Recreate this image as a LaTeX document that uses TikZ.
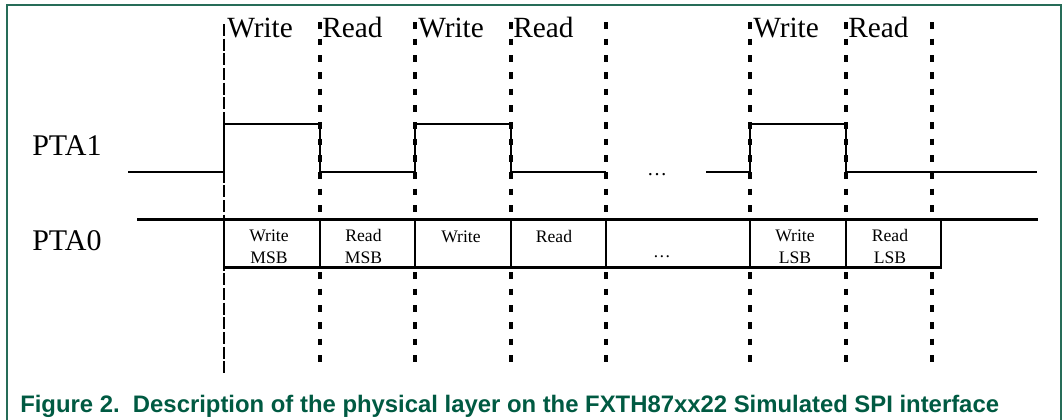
\documentclass[tikz,border=0pt]{standalone}
\usepackage{fontspec}
\setmainfont{Liberation Serif}
\newfontfamily\capfont{Liberation Sans}
\usetikzlibrary{positioning}
\definecolor{framegreen}{RGB}{38,108,88}
\definecolor{capgreen}{RGB}{0,90,66}
\tikzset{
  frame/.style={draw=framegreen, line width=1.2pt},
  signal/.style={draw, line width=1.7pt},
  tick/.style={draw, line width=2.4pt, dash pattern=on 5pt off 7.5pt},
  firsttick/.style={draw, line width=1.4pt, dash pattern=on 9pt off 2pt},
  toplabel/.style={anchor=base west, inner sep=0pt, font=\fontsize{22}{24}\selectfont},
  siglabel/.style={anchor=base west, inner sep=0pt, font=\fontsize{22.5}{25}\selectfont},
  boxtext/.style={align=center, inner sep=0pt, font=\fontsize{13.2}{16.1}\selectfont}
}

\begin{document}
\begin{tikzpicture}[x=0.75pt, y=-0.75pt]
\useasboundingbox (0,0) rectangle (1064,419);

% Cornice
\draw[frame] (7,425) -- (7,5) -- (1061,5) -- (1061,425);

% Linee tratteggiate
\coordinate (t1) at (224,24);  \coordinate (b1) at (224,373);
\coordinate (t2) at (320,22);  \coordinate (b2) at (320,364);
\coordinate (t3) at (415,22);  \coordinate (b3) at (415,364);
\coordinate (t4) at (511,22);  \coordinate (b4) at (511,364);
\coordinate (t5) at (606,22);  \coordinate (b5) at (606,364);
\coordinate (t6) at (750,22);  \coordinate (b6) at (750,364);
\coordinate (t7) at (846,22);  \coordinate (b7) at (846,364);
\coordinate (t8) at (932,22);  \coordinate (b8) at (932,364);
\draw[firsttick] (t1) -- (b1);
\draw[tick] (t2) -- (b2);
\draw[tick] (t3) -- (b3);
\draw[tick] (t4) -- (b4);
\draw[tick] (t5) -- (b5);
\draw[tick] (t6) -- (b6);
\draw[tick] (t7) -- (b7);
\draw[tick] (t8) -- (b8);

% Etichette in alto
\node[toplabel] (w1) at (227,37.5) {Write};
\node[toplabel] (r1) at (322,37.5) {Read};
\node[toplabel] (w2) at (418,37.5) {Write};
\node[toplabel] (r2) at (513,37.5) {Read};
\node[toplabel] (w3) at (753,37.5) {Write};
\node[toplabel] (r3) at (848,37.5) {Read};

% PTA1
\node[siglabel] (PTA1) at (32,155) {PTA1};
\draw[signal] (128,172) -- (224,172) -- (224,124) -- (320,124) -- (320,172)
  -- (415,172) -- (415,124) -- (511,124) -- (511,172) -- (606,172);
\node[boxtext, anchor=base] (dots1) at (657,175) {\fontsize{15}{15}\selectfont\dots};
\draw[signal] (706,172) -- (750,172) -- (750,124) -- (846,124) -- (846,172) -- (1037,172);

% PTA0
\node[siglabel] (PTA0) at (32,250) {PTA0};
\fill[white] (224,219.5) rectangle (941,267.5);
\draw[signal] (137,219.5) -- (1038,219.5);
\draw[signal] (224,219.5) -- (224,267.5) -- (941,267.5) -- (941,219.5);
\draw[signal] (320,219.5) -- (320,267.5);
\draw[signal] (415,219.5) -- (415,267.5);
\draw[signal] (511,219.5) -- (511,267.5);
\draw[signal] (606,219.5) -- (606,267.5);
\draw[signal] (750,219.5) -- (750,267.5);
\draw[signal] (846,219.5) -- (846,267.5);

\node[boxtext, anchor=base] (WriteMSB) at (269,263) {Write\\MSB};
\node[boxtext, anchor=base] (ReadMSB) at (363.5,263) {Read\\MSB};
\node[boxtext, anchor=base] (Write) at (461,242) {Write};
\node[boxtext, anchor=base] (Read) at (554,242) {Read};
\node[boxtext, anchor=base] (dots2) at (662,257) {\dots};
\node[boxtext, anchor=base] (WriteLSB) at (795,263) {Write\\LSB};
\node[boxtext, anchor=base] (ReadLSB) at (890,263) {Read\\LSB};

% Didascalia
\node[anchor=base west, inner sep=0pt, text=capgreen, font=\capfont\bfseries\fontsize{17.9}{19}\selectfont] (caption) at (20,412)
  {Figure 2.\ \ Description of the physical layer on the FXTH87xx22 Simulated SPI interface};

\end{tikzpicture}
\end{document}
